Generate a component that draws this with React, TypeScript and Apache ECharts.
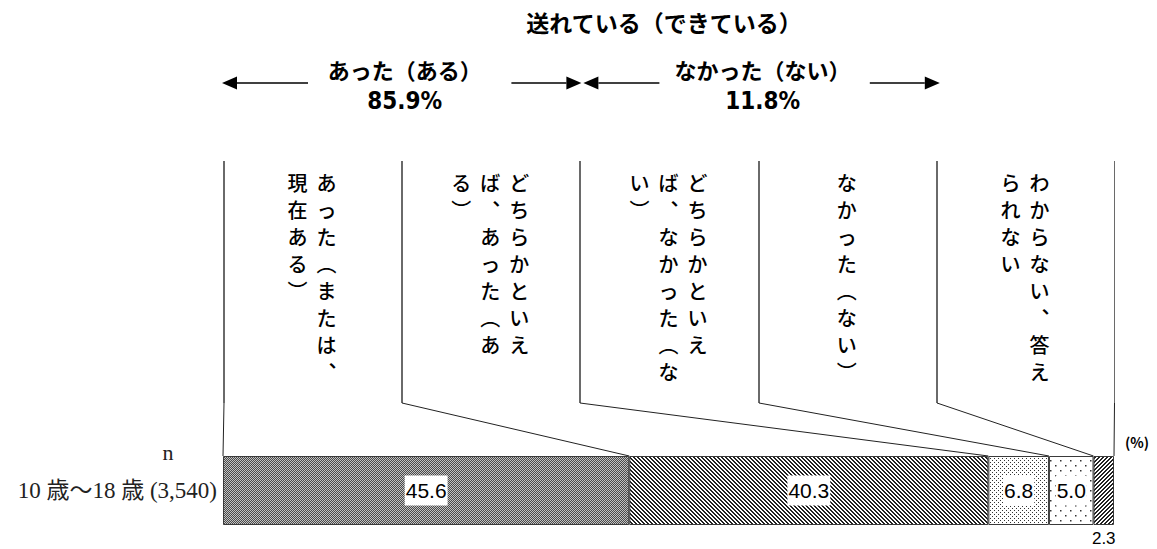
import React, { useEffect, useRef } from "react";
import * as echarts from "echarts";

const categories = ["10 歳～18 歳 (3,540)"];
const seriesNames = [
  "あった（または、現在ある）",
  "どちらかといえば、あった（ある）",
  "どちらかといえば、なかった（ない）",
  "なかった（ない）",
  "わからない、答えられない",
];
const values = [45.6, 40.3, 6.8, 5.0, 2.3];
// vertical label lines per column (right-to-left order)
const columnLines = [
  ["あった（または、", "現在ある）"],
  ["どちらかといえ", "ば、あった（あ", "る）"],
  ["どちらかといえ", "ば、なかった（な", "い）"],
  ["なかった（ない）"],
  ["わからない、答え", "られない"],
];
const headerTitle = "送れている（できている）";
const groupLabels = ["あった（ある）", "なかった（ない）"];
const groupValues = ["85.9%", "11.8%"];
const nLabel = "n";
const unitLabel = "(%)";

const JP = '"Noto Sans CJK JP", "Noto Sans", sans-serif';
const SERIF = '"Liberation Serif", "DejaVu Serif", "Noto Sans CJK JP", serif';
const NARROW = '"Liberation Sans Narrow", "DejaVu Sans Condensed", "Noto Sans CJK JP", sans-serif';

function vert(s: string) {
  const map: Record<string, string> = { "（": "︵", "）": "︶", "、": "︑" };
  return Array.from(s)
    .map((c) => map[c] || c)
    .join("\n");
}

function makePattern(size: number, draw: (ctx: CanvasRenderingContext2D) => void) {
  const c = document.createElement("canvas");
  c.width = size;
  c.height = size;
  const ctx = c.getContext("2d")!;
  ctx.fillStyle = "#fff";
  ctx.fillRect(0, 0, size, size);
  draw(ctx);
  return { image: c.toDataURL(), repeat: "repeat", imageWidth: size, imageHeight: size };
}

function buildPatterns() {
  const checker = makePattern(2, (ctx) => {
    ctx.fillStyle = "#4a4a4a";
    ctx.fillRect(0, 0, 2, 2);
    ctx.fillStyle = "#c2c2c2";
    ctx.fillRect(0, 0, 1, 1);
    ctx.fillRect(1, 1, 1, 1);
  });
  const back = makePattern(4, (ctx) => {
    ctx.fillStyle = "#222";
    for (let y = 0; y < 4; y++) {
      ctx.fillRect(y % 4, y, 1, 1);
      ctx.fillRect((y + 1) % 4, y, 1, 1);
    }
  });
  const dense = makePattern(4, (ctx) => {
    ctx.fillStyle = "#333";
    ctx.fillRect(0, 0, 1, 1);
    ctx.fillRect(2, 2, 1, 1);
  });
  const sparse = makePattern(10, (ctx) => {
    ctx.fillStyle = "#333";
    ctx.fillRect(0, 0, 1.5, 1.5);
    ctx.fillRect(5, 5, 1.5, 1.5);
  });
  const fwd = makePattern(4, (ctx) => {
    ctx.fillStyle = "#222";
    for (let y = 0; y < 4; y++) {
      ctx.fillRect((7 - y) % 4, y, 1, 1);
      ctx.fillRect((8 - y) % 4, y, 1, 1);
    }
  });
  return [checker, back, dense, sparse, fwd];
}

export default function App() {
  const ref = useRef<HTMLDivElement>(null);
  useEffect(() => {
    if (!ref.current) return;
    const chart = echarts.init(ref.current, undefined, { renderer: "svg" });
    const patterns = buildPatterns();
    const gridLeft = 223;
    const gridRight = 1114;
    const gridTop = 456;
    const gridH = 69;
    const last = values.length - 1;
    const option: any = {
      animation: false,
      grid: { left: gridLeft, right: 1157 - gridRight, top: gridTop, height: gridH },
      xAxis: { type: "value", min: 0, max: 100, show: false },
      yAxis: {
        type: "category",
        data: categories,
        axisLine: { show: false },
        axisTick: { show: false },
        axisLabel: {
          margin: 6,
          color: "#222",
          fontSize: 23,
          fontFamily: SERIF,
        },
      },
      series: values.map((v, i) => ({
        type: "bar",
        stack: "total",
        name: seriesNames[i],
        data: [v],
        barWidth: "100%",
        itemStyle: { color: patterns[i], borderColor: "#3a3a3a", borderWidth: 1 },
        label: {
          show: true,
          position: i === last ? "bottom" : "inside",
          distance: 5,
          formatter: (p: any) => Number(p.value).toFixed(1),
          color: "#000",
          fontSize: i === last ? 17 : 21,
          fontFamily: '"Liberation Sans", Arial, sans-serif',
          backgroundColor: i === last ? "transparent" : "#fff",
          padding: i === last ? 0 : [5, 1, 4, 1],
        },
      })),
    };
    chart.setOption(option);

    // positions via the axis scale
    const px = (v: number) => chart.convertToPixel({ gridIndex: 0 }, [v, 0])[0];
    const x0 = px(0);
    const x1 = px(100);
    const colW = (x1 - x0) / columnLines.length;
    const colX = columnLines.map((_, k) => x0 + k * colW).concat([x1]);
    const cum: number[] = [0];
    values.forEach((v, i) => cum.push(cum[i] + v));
    const bounds = cum.map((c) => px(c));

    const g: any[] = [];
    const lineTop = 161;
    const lineBot = 403;
    colX.forEach((x, k) => {
      const isLast = k === colX.length - 1;
      const xx = Math.round(x) + (isLast ? 0.5 : 1);
      g.push({
        type: "line",
        shape: { x1: xx, y1: lineTop, x2: xx, y2: lineBot },
        style: { stroke: "#6a6a6a", lineWidth: isLast ? 1 : 2 },
      });
      g.push({
        type: "line",
        shape: { x1: xx, y1: lineBot, x2: bounds[k], y2: gridTop },
        style: { stroke: "#222", lineWidth: 1 },
      });
    });

    // vertical texts
    const pitch = 29;
    columnLines.forEach((lines, k) => {
      const cx = x0 + (k + 0.5) * colW;
      const m = lines.length;
      lines.forEach((ln, j) => {
        g.push({
          type: "text",
          x: cx + ((m - 1) / 2 - j) * pitch,
          y: 169,
          style: {
            text: vert(ln),
            fontFamily: JP,
            fontSize: 20,
            fontWeight: 500,
            lineHeight: 27,
            fill: "#000",
            textAlign: "center",
            textVerticalAlign: "top",
          },
        });
      });
    });

    // header
    g.push({
      type: "text",
      x: 664,
      y: 22,
      style: {
        text: headerTitle,
        fontFamily: JP,
        fontSize: 23,
        fontWeight: "bold",
        fill: "#000",
        textAlign: "center",
        textVerticalAlign: "middle",
      },
    });

    const arrowY = 83;
    const groups = [
      [colX[0] - 1, colX[2] + 2],
      [colX[2] + 4, colX[4] + 4],
    ];
    groups.forEach(([a, b], i) => {
      const c = (a + b) / 2 + (i === 0 ? 3 : 1);
      g.push({
        type: "text",
        x: c,
        y: 69,
        style: {
          text: groupLabels[i],
          fontFamily: JP,
          fontSize: 22,
          fontWeight: "bold",
          fill: "#000",
          textAlign: "center",
          textVerticalAlign: "middle",
        },
      });
      g.push({
        type: "text",
        x: c,
        y: 101,
        style: {
          text: groupValues[i],
          fontFamily: NARROW,
          fontSize: 24,
          fontWeight: "bold",
          fill: "#000",
          textAlign: "center",
          textVerticalAlign: "middle",
        },
      });
      const hl = 15;
      const hh = 6.5;
      g.push({
        type: "polygon",
        shape: { points: [[a, arrowY], [a + hl, arrowY - hh], [a + hl, arrowY + hh]] },
        style: { fill: "#000" },
      });
      g.push({
        type: "line",
        shape: { x1: a + hl, y1: arrowY, x2: a + (i === 0 ? 86 : 76), y2: arrowY },
        style: { stroke: "#000", lineWidth: 1.3 },
      });
      g.push({
        type: "polygon",
        shape: { points: [[b, arrowY], [b - hl, arrowY - hh], [b - hl, arrowY + hh]] },
        style: { fill: "#000" },
      });
      g.push({
        type: "line",
        shape: { x1: b - 70, y1: arrowY, x2: b - hl, y2: arrowY },
        style: { stroke: "#000", lineWidth: 1.3 },
      });
    });

    g.push({
      type: "text",
      x: 168,
      y: 452,
      style: {
        text: nLabel,
        fontFamily: SERIF,
        fontSize: 22,
        fill: "#222",
        textAlign: "center",
        textVerticalAlign: "middle",
      },
    });
    g.push({
      type: "text",
      x: 1137,
      y: 442,
      style: {
        text: unitLabel,
        fontFamily: JP,
        fontSize: 14,
        fontWeight: "bold",
        fill: "#000",
        textAlign: "center",
        textVerticalAlign: "middle",
      },
    });

    chart.setOption({ graphic: g });
    return () => chart.dispose();
  }, []);
  return (
    <div
      ref={ref}
      style={{ position: "absolute", left: 0, top: 0, width: 1157, height: 549, background: "#fff" }}
    />
  );
}
